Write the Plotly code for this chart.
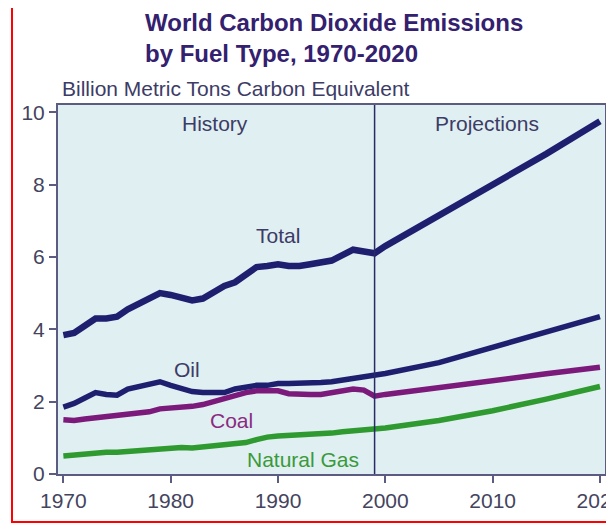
import plotly.graph_objects as go

hist_years = list(range(1970, 2000))
proj_years = [1999, 2000, 2005, 2010, 2015, 2020]

total_hist = [3.84, 3.9, 4.1, 4.3, 4.3, 4.35, 4.55, 4.7, 4.85, 5.0,
              4.95, 4.87, 4.8, 4.85, 5.05, 5.2, 5.3, 5.5, 5.72, 5.75,
              5.8, 5.75, 5.75, 5.8, 5.85, 5.9, 6.05, 6.2, 6.15, 6.1]
total_proj = [6.1, 6.3, 7.15, 7.95, 8.85, 9.75]

oil_hist = [1.85, 1.95, 2.1, 2.25, 2.2, 2.18, 2.35, 2.42, 2.5, 2.55,
            2.45, 2.35, 2.28, 2.25, 2.25, 2.25, 2.35, 2.4, 2.45, 2.45,
            2.5, 2.5, 2.5, 2.5, 2.53, 2.55, 2.6, 2.65, 2.68, 2.72]
oil_proj = [2.72, 2.78, 3.08, 3.5, 3.92, 4.35]

coal_hist = [1.5, 1.48, 1.52, 1.55, 1.57, 1.6, 1.65, 1.68, 1.72, 1.8,
             1.82, 1.84, 1.87, 1.92, 2.0, 2.1, 2.18, 2.25, 2.3, 2.3,
             2.3, 2.22, 2.2, 2.2, 2.2, 2.25, 2.3, 2.35, 2.32, 2.15]
coal_proj = [2.15, 2.2, 2.4, 2.58, 2.77, 2.95]

gas_hist = [0.5, 0.53, 0.55, 0.58, 0.6, 0.6, 0.62, 0.64, 0.67, 0.7,
            0.73, 0.73, 0.72, 0.75, 0.8, 0.84, 0.84, 0.87, 0.95, 1.02,
            1.05, 1.06, 1.08, 1.1, 1.12, 1.13, 1.17, 1.19, 1.2, 1.22]
gas_proj = [1.22, 1.27, 1.48, 1.75, 2.07, 2.42]

x_ticks = [1970, 1980, 1990, 2000, 2010, 2020]
y_ticks = [0, 2, 4, 6, 8, 10]

FONT = "Liberation Sans, Arial, sans-serif"
NAVY = "#1f1f70"
PURPLE = "#7b1a7b"
GREEN = "#2f9a2f"
AXIS = "#5c5c82"
TXT = "#3c3c66"

fig = go.Figure()
series = [
    (gas_hist, gas_proj, GREEN, 5.5),
    (coal_hist, coal_proj, PURPLE, 5.5),
    (oil_hist, oil_proj, NAVY, 5.5),
    (total_hist, total_proj, NAVY, 6.5),
]
for h, p, c, w in series:
    fig.add_trace(go.Scatter(x=hist_years + proj_years[1:], y=h + p[1:], mode="lines",
                             line=dict(color=c, width=w), showlegend=False, hoverinfo="skip"))

fig.add_shape(type="line", xref="x", yref="paper", x0=1999, x1=1999, y0=0, y1=1,
              line=dict(color="#2a2a66", width=1.5))
# red frame
fig.add_shape(type="rect", xref="paper", yref="paper",
              x0=(12 - 58) / 547, x1=(622 - 58) / 547,
              y0=-(522 - 474) / 369, y1=1 + (105 - 6.5) / 369,
              line=dict(color="#ff0000", width=2), layer="above")

anns = [
    dict(text="History", x=1984.1, y=9.7, color=TXT),
    dict(text="Projections", x=2009.5, y=9.7, color=TXT),
    dict(text="Total", x=1990.0, y=6.6, color=TXT),
    dict(text="Oil", x=1981.5, y=2.9, color=TXT),
    dict(text="Coal", x=1985.7, y=1.49, color="#8a2a80"),
    dict(text="Natural Gas", x=1992.3, y=0.4, color="#3a9a3a"),
]
for a in anns:
    fig.add_annotation(text=a["text"], x=a["x"], y=a["y"], xref="x", yref="y",
                       showarrow=False, font=dict(family=FONT, size=21, color=a["color"]),
                       xanchor="center", yanchor="middle")

fig.add_annotation(text="<b>World Carbon Dioxide Emissions<br>by Fuel Type, 1970-2020</b>",
                   xref="paper", yref="paper", x=(143 - 58) / 547, y=1 + (105 - 38.5) / 369,
                   xanchor="left", yanchor="middle", align="left", showarrow=False,
                   font=dict(family=FONT, size=24, color="#33206e"))
fig.add_annotation(text="Billion Metric Tons Carbon Equivalent",
                   xref="paper", yref="paper", x=(60 - 58) / 547, y=1 + (105 - 88) / 369,
                   xanchor="left", yanchor="middle", showarrow=False,
                   font=dict(family=FONT, size=21, color=TXT))

# page body has an 8px default margin; the figure is sized/offset to compensate
fig.update_layout(
    width=606, height=520,
    margin=dict(l=50, r=9, t=97, b=54, autoexpand=False),
    paper_bgcolor="white",
    plot_bgcolor="#e0eff1",
    font=dict(family=FONT, color=TXT),
    xaxis=dict(range=[1969.5, 2020.47], tickvals=x_ticks, ticktext=[str(v) for v in x_ticks],
               showgrid=False, zeroline=False, showline=True, mirror=True, automargin=False,
               ticklabeloverflow="allow",
               linecolor=AXIS, linewidth=2, ticks="outside", ticklen=7, tickwidth=2,
               tickcolor=AXIS, tickfont=dict(family=FONT, size=21, color="#44445e")),
    yaxis=dict(range=[0, 10.2], tickvals=y_ticks, ticktext=[str(v) for v in y_ticks],
               showgrid=False, zeroline=False, showline=True, mirror=True, automargin=False,
               ticklabeloverflow="allow",
               linecolor=AXIS, linewidth=2, ticks="outside", ticklen=7, tickwidth=2,
               tickcolor=AXIS, tickfont=dict(family=FONT, size=21, color="#44445e")),
)

fig.write_html("out.html")
